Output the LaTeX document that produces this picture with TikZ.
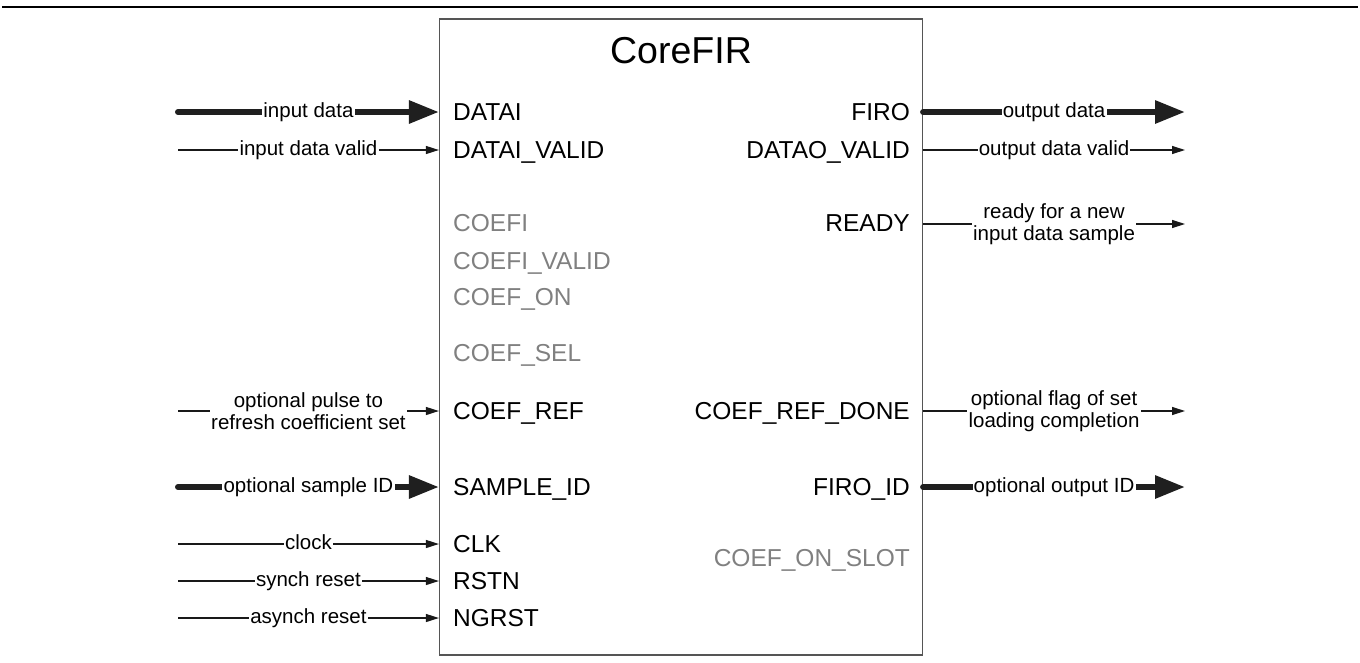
\documentclass[tikz,border=0pt]{standalone}
\usepackage{fontspec}
\setmainfont{Liberation Sans}
\usetikzlibrary{arrows.meta}
\definecolor{offgray}{HTML}{808080}
\definecolor{boxgray}{HTML}{555555}
\begin{document}
\begin{tikzpicture}[x=1pt,y=-1pt,
  port/.style={font=\fontsize{24.5}{26}\selectfont, inner sep=0pt},
  lport/.style={port, anchor=base west},
  rport/.style={port, anchor=base east},
  off/.style={text=offgray},
  sig/.style={font=\fontsize{20.5}{21}\selectfont, fill=white, inner sep=1.2pt, text height=14.5pt, text depth=4.2pt},
  sigtwo/.style={font=\fontsize{20.5}{22.5}\selectfont, fill=white, inner sep=1.2pt, align=center},
  thinarrow/.style={line width=1.2pt, draw=black!90, -{Triangle[length=13pt,width=8pt]}},
  busarrow/.style={line width=6pt, draw=black!88, line cap=round, -{Triangle[length=30pt,width=22pt]}},
]
\useasboundingbox (0,0) rectangle (1360,662);
% top rule
\draw[line width=2.5pt] (2,7) -- (1358,7);
% block
\node (core) [draw=boxgray, line width=1.2pt, minimum width=483pt, minimum height=636pt, inner sep=0pt] at (681,337) {};
\node (title) [font=\fontsize{37.5}{40}\selectfont, anchor=base] at (681,63) {CoreFIR};

% left ports (baseline = row + 8.8)
\node (pDATAI)  [lport] at (453,120.8) {DATAI};
\node (pDATAIV) [lport] at (453,158.8) {DATAI\_VALID};
\node (pCOEFI)  [lport,off] at (453,231.8) {COEFI};
\node (pCOEFIV) [lport,off] at (453,269.8) {COEFI\_VALID};
\node (pCOEFON) [lport,off] at (453,305.8) {COEF\_ON};
\node (pCOEFSEL)[lport,off] at (453,361.8) {COEF\_SEL};
\node (pCOEFREF)[lport] at (453,419.8) {COEF\_REF};
\node (pSID)    [lport] at (453,495.8) {SAMPLE\_ID};
\node (pCLK)    [lport] at (453,552.8) {CLK};
\node (pRSTN)   [lport] at (453,589.8) {RSTN};
\node (pNGRST)  [lport] at (453,626.8) {NGRST};

% right ports
\node (pFIRO)   [rport] at (910,120.8) {FIRO};
\node (pDOV)    [rport] at (910,158.8) {DATAO\_VALID};
\node (pREADY)  [rport] at (910,231.8) {READY};
\node (pCRD)    [rport] at (910,419.8) {COEF\_REF\_DONE};
\node (pFID)    [rport] at (910,495.8) {FIRO\_ID};
\node (pCOS)    [rport,off] at (910,566.8) {COEF\_ON\_SLOT};

% free ends of connectors
\coordinate (iDATA) at (178,112);
\coordinate (iDV)   at (178,150);
\coordinate (iREF)  at (178,411);
\coordinate (iSID)  at (178,487);
\coordinate (iCLK)  at (178,544);
\coordinate (iRST)  at (178,581);
\coordinate (iNG)   at (178,618);
\coordinate (oDATA) at (1185,112);
\coordinate (oDV)   at (1185,150);
\coordinate (oRDY)  at (1185,224);
\coordinate (oCRD)  at (1185,411);
\coordinate (oFID)  at (1185,487);

% inputs
\draw[busarrow]  (iDATA) -- (core.west |- iDATA) node[sig, midway] (lDATA) {input data};
\draw[thinarrow] (iDV)   -- (core.west |- iDV)   node[sig, midway] (lDV) {input data valid};
\draw[thinarrow] (iREF)  -- (core.west |- iREF)  node[sigtwo, midway] (lREF) {optional pulse to\\refresh coefficient set};
\draw[busarrow]  (iSID)  -- (core.west |- iSID)  node[sig, midway] (lSID) {optional sample ID};
\draw[thinarrow] (iCLK)  -- (core.west |- iCLK)  node[sig, midway] (lCLK) {clock};
\draw[thinarrow] (iRST)  -- (core.west |- iRST)  node[sig, midway] (lRST) {synch reset};
\draw[thinarrow] (iNG)   -- (core.west |- iNG)   node[sig, midway] (lNG) {asynch reset};

% outputs
\draw[busarrow]  (core.east |- oDATA) -- (oDATA) node[sig, midway] (lODATA) {output data};
\draw[thinarrow] (core.east |- oDV)   -- (oDV)   node[sig, midway] (lODV) {output data valid};
\draw[thinarrow] (core.east |- oRDY)  -- (oRDY)  node[sigtwo, midway] (lRDY) {ready for a new\\input data sample};
\draw[thinarrow] (core.east |- oCRD)  -- (oCRD)  node[sigtwo, midway] (lCRD) {optional flag of set\\loading completion};
\draw[busarrow]  (core.east |- oFID)  -- (oFID)  node[sig, midway] (lFID) {optional output ID};
\end{tikzpicture}
\end{document}
